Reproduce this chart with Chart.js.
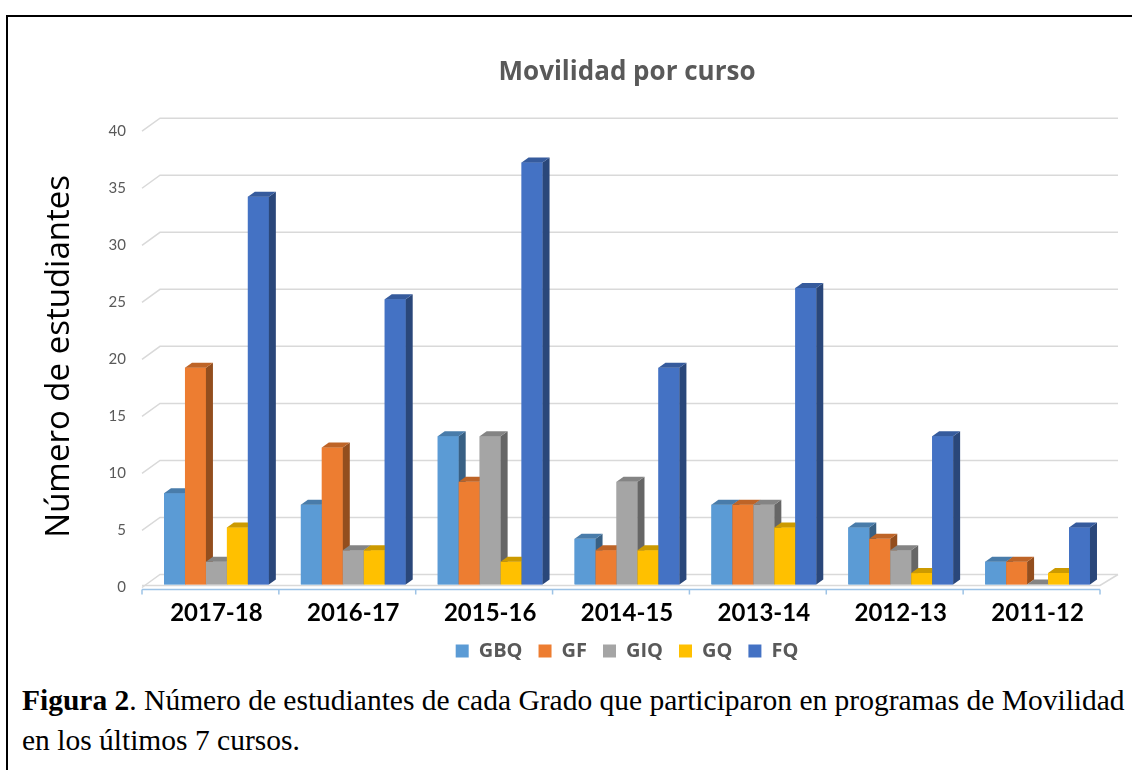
<!DOCTYPE html>
<html>
<head>
<meta charset="utf-8">
<title>Movilidad por curso</title>
<script src="https://cdn.jsdelivr.net/npm/chart.js@4.4.0/dist/chart.umd.min.js"></script>
<style>
    body { margin: 0; background: #fff; width: 1132px; height: 770px; overflow: hidden; position: relative; }
    .frame { position: absolute; left: 6px; top: 15px; width: 1200px; height: 900px; border-left: 2px solid #000; border-top: 2px solid #000; }
    #wrap { position: absolute; left: 0; top: 0; width: 1132px; height: 680px; }
    .caption { position: absolute; left: 22px; top: 680px; font-family: "Liberation Serif", serif; font-size: 29.5px; line-height: 40px; color: #000; white-space: nowrap; }
</style>
</head>
<body>
<div class="frame"></div>
<div id="wrap"><canvas id="chart1" width="1132" height="680"></canvas></div>
<div class="caption"><b>Figura 2</b>. Número de estudiantes de cada Grado que participaron en programas de Movilidad<br>en los últimos 7 cursos.</div>

<script>
// cursos y alumnos de movilidad por grado
var cursos = ["2017-18", "2016-17", "2015-16", "2014-15", "2013-14", "2012-13", "2011-12"];
var gbq = [8, 7, 13, 4, 7, 5, 2];
var gf = [19, 12, 9, 3, 7, 4, 2];
var giq = [2, 3, 13, 9, 7, 3, 0];
var gq = [5, 3, 2, 3, 5, 1, 1];
var fq = [34, 25, 37, 19, 26, 13, 5];
var grados = ["GBQ", "GF", "GIQ", "GQ", "FQ"];
var barColors = ["#5b9bd5", "#ed7d31", "#a5a5a5", "#ffc000", "#4472c4"];

// depth of the bars and of the back wall
var barDx = 7, barDy = 5;
var wallDx = 12, wallDy = 10;

function shade(hex, f) {
    var n = parseInt(hex.slice(1), 16);
    var r = Math.round(((n >> 16) & 255) * f);
    var g = Math.round(((n >> 8) & 255) * f);
    var b = Math.round((n & 255) * f);
    return "rgb(" + r + "," + g + "," + b + ")";
}

function poly(ctx, pts, color) {
    ctx.beginPath();
    ctx.moveTo(pts[0][0], pts[0][1]);
    for (var i = 1; i < pts.length; i++) ctx.lineTo(pts[i][0], pts[i][1]);
    ctx.closePath();
    ctx.fillStyle = color;
    ctx.fill();
}

var bars3d = {
    id: "bars3d",
    beforeDatasetsDraw: function (chart) {
        var ctx = chart.ctx, ys = chart.scales.y;
        var area = chart.chartArea;
        ctx.save();
        // back wall grid
        ctx.strokeStyle = "#d9d9d9";
        ctx.lineWidth = 1.5;
        ys.ticks.forEach(function (t) {
            var y = ys.getPixelForValue(t.value);
            ctx.beginPath();
            ctx.moveTo(area.left - 6, y + 3);
            ctx.lineTo(area.left + wallDx, y - wallDy);
            ctx.lineTo(area.right + wallDx, y - wallDy);
            ctx.stroke();
        });
        // floor front edge
        ctx.beginPath();
        ctx.moveTo(area.left - 6, area.bottom + 1);
        ctx.lineTo(area.right - 6, area.bottom + 1);
        ctx.lineTo(area.right + wallDx, area.bottom - wallDy);
        ctx.stroke();
        // category axis
        var step = (area.right - area.left) / cursos.length;
        ctx.strokeStyle = "#9dc3e6";
        ctx.lineWidth = 1.5;
        ctx.beginPath();
        ctx.moveTo(area.left - 6, area.bottom + 5);
        ctx.lineTo(area.right - 6, area.bottom + 5);
        for (var i = 0; i <= cursos.length; i++) {
            var x = area.left - 6 + i * step;
            ctx.moveTo(x, area.bottom + 5);
            ctx.lineTo(x, area.bottom + 10);
        }
        ctx.stroke();
        ctx.restore();
    },
    afterDatasetsDraw: function (chart) {
        // redraw every bar left to right so each front hides the side of its left neighbour
        var ctx = chart.ctx;
        var metas = chart.data.datasets.map(function (d, i) { return chart.getDatasetMeta(i); });
        ctx.save();
        for (var c = 0; c < cursos.length; c++) {
            metas.forEach(function (meta, d) {
                var el = meta.data[c];
                var color = barColors[d];
                var x0 = el.x - el.width / 2, x1 = el.x + el.width / 2;
                var top = el.y, base = el.base;
                ctx.fillStyle = color;
                ctx.fillRect(x0, top, x1 - x0, base - top);
                poly(ctx, [[x1, top], [x1 + barDx, top - barDy], [x1 + barDx, base - barDy], [x1, base]], shade(color, 0.62));
                poly(ctx, [[x0, top], [x0 + barDx, top - barDy], [x1 + barDx, top - barDy], [x1, top]], shade(color, 0.8));
            });
        }
        ctx.restore();
    }
};

var series = [gbq, gf, giq, gq, fq];
var datasets = grados.map(function (g, i) {
    return {
        label: g,
        data: series[i],
        backgroundColor: barColors[i],
        borderWidth: 0,
        barPercentage: 1,
        categoryPercentage: 0.766
    };
});

new Chart("chart1", {
    type: "bar",
    data: {
        labels: cursos,
        datasets: datasets
    },
    plugins: [bars3d],
    options: {
        responsive: false,
        animation: false,
        layout: {
            padding: { top: 57, left: 40, right: 26, bottom: 9 }
        },
        scales: {
            x: {
                grid: { display: false, drawTicks: false },
                border: { display: false },
                ticks: {
                    color: "#000",
                    padding: 14,
                    font: { family: "Lato", size: 24, weight: "bold" }
                },
                afterFit: function (scale) { scale.height = 40.5; }
            },
            y: {
                min: 0,
                max: 40,
                grid: { display: false, drawTicks: false },
                border: { display: false },
                ticks: {
                    stepSize: 5,
                    color: "#595959",
                    padding: 22,
                    labelOffset: 3,
                    font: { family: "Lato", size: 15 }
                },
                title: {
                    display: true,
                    text: "Número de estudiantes",
                    color: "#000",
                    padding: { top: 0, bottom: 0 },
                    font: { family: "Open Sans", size: 33 }
                },
                afterFit: function (scale) { scale.width = 148 - 40; }
            }
        },
        plugins: {
            title: {
                display: true,
                fullSize: false,
                text: "Movilidad por curso",
                color: "#595959",
                padding: { top: 0, bottom: 40 },
                font: { family: "Open Sans", size: 26, weight: "bold" }
            },
            legend: {
                position: "bottom",
                fullSize: false,
                labels: {
                    color: "#595959",
                    boxWidth: 13,
                    boxHeight: 13,
                    padding: 16,
                    font: { family: "Open Sans", size: 20, weight: "bold" }
                }
            },
            tooltip: { enabled: false }
        }
    }
});
</script>
</body>
</html>
